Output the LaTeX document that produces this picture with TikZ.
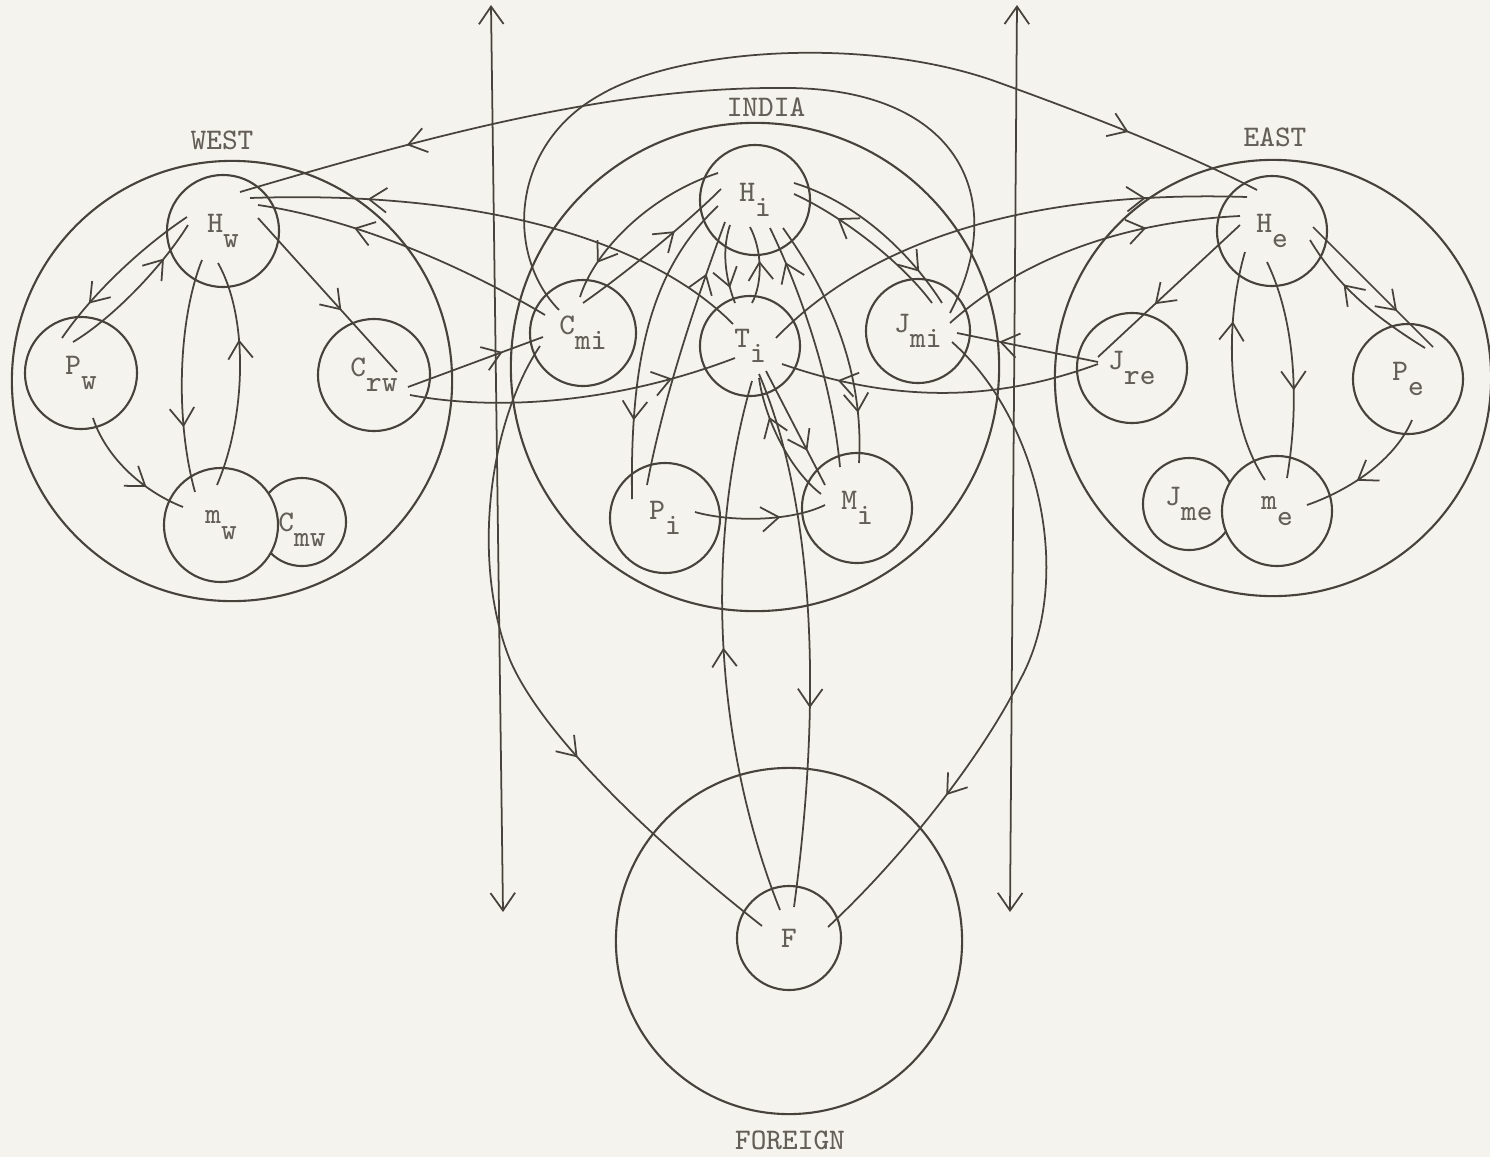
\documentclass[tikz,border=0pt]{standalone}
\usepackage{tikz}
\usetikzlibrary{calc,arrows.meta,decorations.markings}
\definecolor{paper}{RGB}{245,243,237}
\definecolor{ink}{RGB}{72,66,60}
\definecolor{inktext}{RGB}{100,94,88}
\newcommand{\typed}{\ttfamily\fontsize{8.5}{10}\selectfont}
\newcommand{\dnsub}[1]{\raisebox{-4.3pt}{#1}}

\begin{document}
\begin{tikzpicture}[x=0.01cm, y=-0.01cm,
    chev/.tip={Straight Barb[length=5pt,width=7pt]},
    ring/.style={circle, draw=ink, line width=0.6pt, inner sep=0pt, minimum size=1.1cm, text=inktext, font=\typed},
    region/.style={circle, draw=ink, line width=0.6pt, inner sep=0pt},
    tag/.style={text=inktext, font=\typed},
    link/.style={draw=ink, line width=0.5pt},
    flow/.style={link, postaction={decorate}, decoration={markings, mark=at position #1 with {\arrow{chev}}}},
    flow/.default=0.6]

    % Paper
    \fill[paper] (0,0) rectangle (1490,1157);
    \useasboundingbox (0,0) rectangle (1490,1157);

    % Regions
    \node[region, minimum size=4.4cm] (west) at (232,381) {};
    \node[region, minimum size=4.88cm] (india) at (755,367) {};
    \node[region, minimum size=4.36cm] (east) at (1273,378) {};
    \node[region, minimum size=3.46cm] (foreign) at (789,941) {};
    \node[tag] (westlbl) at (222,140) {WEST};
    \node[tag] (indialbl) at (766,107) {INDIA};
    \node[tag] (eastlbl) at (1275,137) {EAST};
    \node[tag] (foreignlbl) at (790,1140) {FOREIGN};

    % West
    \node[ring, minimum size=1.12cm] (Hw) at (223,231) {H\dnsub{w}};
    \node[ring, minimum size=1.12cm] (Pw) at (81,373) {P\dnsub{w}};
    \node[ring, minimum size=1.12cm] (Crw) at (374,375) {C\dnsub{rw}};
    \node[ring, minimum size=0.88cm] (Cmw) at (302,522) {};
    \node[ring, minimum size=1.14cm, fill=paper] (mw) at (221,525) {m\dnsub{w}};
    \node[tag] (Cmwlbl) at (302,530) {C\dnsub{mw}};

    % India
    \node[ring] (Hi) at (755,200) {H\dnsub{i}};
    \node[ring, minimum size=1.06cm] (Cmi) at (583,333) {C\dnsub{mi}};
    \node[ring, minimum size=1.0cm] (Ti) at (750,346) {T\dnsub{i}};
    \node[ring, minimum size=1.04cm] (Jmi) at (918,331) {J\dnsub{mi}};
    \node[ring] (Pi) at (665,518) {P\dnsub{i}};
    \node[ring] (Mi) at (857,508) {M\dnsub{i}};

    % East
    \node[ring] (He) at (1272,231) {H\dnsub{e}};
    \node[ring] (Jre) at (1132,368) {J\dnsub{re}};
    \node[ring] (Pe) at (1408,379) {P\dnsub{e}};
    \node[ring, minimum size=0.92cm] (Jme) at (1189,504) {};
    \node[ring, fill=paper] (me) at (1277,511) {m\dnsub{e}};
    \node[tag] (Jmelbl) at (1189,504) {J\dnsub{me}};

    % Foreign
    \node[ring, minimum size=1.04cm] (F) at (789,938) {F};

    % Borders
    \coordinate (wtop) at (491,5);
    \coordinate (wbot) at (503,912);
    \coordinate (etop) at (1017,5);
    \coordinate (ebot) at (1010,912);
    \draw[link, chev-chev] (wtop) -- (wbot);
    \draw[link, chev-chev] (etop) -- (ebot);

    % Inside West
    \draw[flow=0.75] ($(Hw)+(-36,-14)$) .. controls (145,245) and (95,290) .. ($(Pw)+(-19,-35)$);
    \draw[flow=0.75] ($(Pw)+(-8,-31)$) .. controls (110,320) and (160,270) .. ($(Hw)+(-35,-6)$);
    \draw[flow=0.72] ($(Hw)+(-21,29)$) .. controls (178,320) and (175,420) .. ($(mw)+(-26,-33)$);
    \draw[flow=0.65] ($(mw)+(-4,-40)$) .. controls (245,420) and (250,320) .. ($(Hw)+(-5,32)$);
    \draw[flow=0.6] ($(Hw)+(35,-13)$) -- ($(Crw)+(23,-3)$);
    \draw[flow=0.68] ($(Pw)+(12,45)$) .. controls (105,455) and (140,490) .. ($(mw)+(-38,-18)$);

    % West and India
    \draw[flow=0.81] ($(Jmi)+(32,-18)$) .. controls (1010,200) and (960,90) .. (790,88)
        .. controls (620,86) and (450,130) .. ($(Hw)+(17,-39)$);
    \draw[flow=0.77] ($(Ti)+(-17,-22)$) .. controls (650,240) and (480,190) .. ($(Hw)+(27,-33)$);
    \draw[flow=0.68] ($(Cmi)+(-38,-18)$) .. controls (470,270) and (360,220) .. ($(Hw)+(35,-26)$);
    \draw[flow=0.7] ($(Crw)+(34,12)$) -- ($(Cmi)+(-40,4)$);
    \draw[flow=0.8] ($(Crw)+(36,20)$) .. controls (500,412) and (620,402) .. ($(Ti)+(-15,12)$);

    % Inside India
    \draw[flow=0.8] ($(Hi)+(-37,-27)$) .. controls (650,195) and (595,250) .. ($(Cmi)+(-3,-36)$);
    \draw[flow=0.65] ($(Cmi)+(0,-30)$) .. controls (630,270) and (690,220) .. ($(Hi)+(-34,-11)$);
    \draw[flow=0.8] ($(Hi)+(-25,25)$) .. controls (720,255) and (728,285) .. ($(Ti)+(-15,-43)$);
    \draw[flow=0.55] ($(Ti)+(2,-43)$) .. controls (763,282) and (762,250) .. ($(Hi)+(-5,27)$);
    \draw[flow=0.7] ($(Ti)+(16,25)$) -- ($(Mi)+(-32,-23)$);
    \draw[flow=0.7] ($(Mi)+(-36,-14)$) .. controls (790,470) and (765,420) .. ($(Ti)+(9,32)$);
    \draw[flow=0.8] ($(Pi)+(-18,-33)$) .. controls (665,390) and (700,290) .. ($(Hi)+(-30,22)$);
    \draw[flow=0.75] ($(Hi)+(-37,6)$) .. controls (650,270) and (630,360) .. ($(Pi)+(-33,-19)$);
    \draw[flow=0.65] ($(Pi)+(30,-6)$) .. controls (730,522) and (790,522) .. ($(Mi)+(-32,-3)$);
    \draw[flow=0.85] ($(Mi)+(-17,-41)$) .. controls (832,380) and (800,290) .. ($(Hi)+(15,28)$);
    \draw[flow=0.8] ($(Hi)+(28,28)$) .. controls (820,280) and (865,360) .. ($(Mi)+(2,-45)$);
    \draw[flow=0.8] ($(Hi)+(39,-17)$) .. controls (850,200) and (905,245) .. ($(Jmi)+(24,-28)$);
    \draw[flow=0.72] ($(Jmi)+(14,-28)$) .. controls (900,260) and (840,215) .. ($(Hi)+(39,-6)$);

    % India and Foreign
    \draw[flow=0.64] ($(Cmi)+(-43,13)$) .. controls (490,420) and (470,560) .. (510,660)
        .. controls (540,730) and (640,830) .. ($(F)+(-27,-12)$);
    \draw[flow=0.5] ($(F)+(-9,-28)$) .. controls (720,760) and (700,560) .. ($(Ti)+(2,35)$);
    \draw[flow=0.63] ($(Ti)+(9,28)$) .. controls (800,470) and (830,640) .. ($(F)+(5,-31)$);
    \draw[flow=0.74] ($(Jmi)+(34,11)$) .. controls (1040,420) and (1075,580) .. (1020,680)
        .. controls (980,760) and (900,860) .. ($(F)+(39,-11)$);

    % India and East
    \draw[flow=0.85] ($(Cmi)+(-24,-23)$) .. controls (505,255) and (510,145) .. (600,95)
        .. controls (680,48) and (870,35) .. (1000,83)
        .. controls (1080,112) and (1180,150) .. ($(He)+(-15,-41)$);
    \draw[flow=0.8] ($(Ti)+(26,-8)$) .. controls (870,240) and (1030,190) .. ($(He)+(-25,-34)$);
    \draw[flow=0.7] ($(Jmi)+(32,-8)$) .. controls (1020,260) and (1120,222) .. ($(He)+(-32,-15)$);
    \draw[flow=0.7] ($(Jre)+(-34,-6)$) -- ($(Jmi)+(39,2)$);
    \draw[flow=0.82] ($(Jre)+(-34,-4)$) .. controls (1000,400) and (900,405) .. ($(Ti)+(32,18)$);

    % Inside East
    \draw[flow=0.6] ($(He)+(-32,-6)$) -- ($(Jre)+(-34,-11)$);
    \draw[flow=0.7] ($(me)+(-12,-31)$) .. controls (1225,420) and (1225,320) .. ($(He)+(-27,21)$);
    \draw[flow=0.6] ($(He)+(-5,31)$) .. controls (1295,320) and (1300,400) .. ($(me)+(10,-33)$);
    \draw[flow=0.7] ($(He)+(41,-4)$) -- ($(Pe)+(25,-32)$);
    \draw[flow=0.65] ($(Pe)+(17,-31)$) .. controls (1380,320) and (1340,290) .. ($(He)+(38,9)$);
    \draw[flow=0.6] ($(Pe)+(4,41)$) .. controls (1395,460) and (1350,490) .. ($(me)+(30,-6)$);
\end{tikzpicture}
\end{document}
